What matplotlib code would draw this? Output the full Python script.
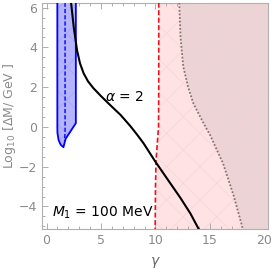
import matplotlib
matplotlib.use("Agg")
import matplotlib.pyplot as plt
from matplotlib.ticker import MultipleLocator

# --- data ---
# blue excluded band (polygon outline)
blue_x = [0.99, 0.99, 1.0, 1.1, 1.3, 1.55, 1.75, 2.69, 2.69]
blue_y = [6.25, 0.0, -0.3, -0.65, -0.9, -1.02, -0.6, 0.19, 6.25]
blue_dash_x = [1.7, 1.7, 1.65]
blue_dash_y = [6.25, -0.3, -0.7]

# black curve, alpha = 2
curve_x = [2.25, 2.5, 2.8, 3.07, 3.4, 3.8, 4.3, 5.0, 5.84, 6.8, 7.68, 8.3, 8.9,
           9.98, 11.0, 12.3, 13.2, 13.97, 14.05]
curve_y = [6.25, 5.0, 3.85, 3.2, 2.7, 2.3, 1.95, 1.55, 1.1, 0.6, 0.05, -0.38, -0.82,
           -1.74, -2.55, -3.58, -4.35, -5.14, -5.2]

# red dashed boundary
red_x = [10.3, 10.3, 10.28, 10.19, 10.05, 10.0, 9.97]
red_y = [6.25, 2.0, 0.0, -0.65, -1.7, -3.0, -5.2]

# gray dotted boundary
dot_x = [12.18, 12.3, 12.55, 13.0, 13.47, 14.3, 15.0, 16.2, 17.2, 18.05]
dot_y = [6.25, 4.5, 3.03, 2.0, 1.19, 0.3, -0.4, -1.83, -3.5, -5.2]

XMIN, XMAX = -0.4, 20.35
YMIN, YMAX = -5.13, 6.25
GRAY = "#8a8a8a"

plt.rcParams["hatch.linewidth"] = 0.4

fig = plt.figure(figsize=(2.74, 2.69), dpi=100)
ax = fig.add_axes([0.154, 0.149, 0.825, 0.841])

# pink region right of red line
ax.fill_betweenx(red_y, red_x, XMAX + 1, color="#ffe2e4", lw=0, zorder=1)
# darker region right of dotted line
ax.fill_betweenx(dot_y, dot_x, XMAX + 1, color="#ecd4d6", lw=0, zorder=2)
# faint cross hatching over both
ax.fill_betweenx(red_y, red_x, XMAX + 1, facecolor="none", edgecolor="#f5d2d5",
                 hatch="x", lw=0, zorder=2.5)

ax.plot(red_x, red_y, color="#e8141c", ls=(0, (3, 1.5)), lw=1.2, zorder=4)
ax.plot(dot_x, dot_y, color="#8a7272", ls=(0, (1, 1)), lw=1.3, zorder=4)

# blue band
ax.fill(blue_x, blue_y, facecolor="#b4b4ff", lw=0, zorder=3)
ax.fill(blue_x, blue_y, facecolor="none", edgecolor="#a0a0f4", hatch="x", lw=0, zorder=3)
ax.plot(blue_x, blue_y, color="#0000ff", lw=1.3, zorder=3)
ax.plot(blue_dash_x, blue_dash_y, color="#0000ff", ls=(0, (3, 1.5)), lw=1.0, zorder=4)

ax.plot(curve_x, curve_y, color="black", lw=1.5, zorder=5)

ax.text(7.15, 1.49, r"$\alpha$ = 2", fontsize=10, ha="center", va="center", zorder=6)
ax.text(0.5, -4.34, r"$M_1$ = 100 MeV", fontsize=10, ha="left", va="center", zorder=6)

ax.set_xlim(XMIN, XMAX)
ax.set_ylim(YMIN, YMAX)
ax.xaxis.set_major_locator(MultipleLocator(5))
ax.xaxis.set_minor_locator(MultipleLocator(1))
ax.yaxis.set_major_locator(MultipleLocator(2))
ax.yaxis.set_minor_locator(MultipleLocator(0.5))
ax.tick_params(which="both", direction="in", top=True, right=True, color="#a0a0a0",
               labelcolor=GRAY, labelsize=9, width=0.6)
ax.tick_params(which="major", length=4)
ax.tick_params(which="minor", length=2)
for s in ax.spines.values():
    s.set_color("#b0b0b0")
    s.set_linewidth(0.8)

ax.set_ylabel(r"Log$_{10}$ [$\Delta$M/ GeV ]", color=GRAY, fontsize=9)
ax.yaxis.set_label_coords(-0.105, 0.5)
ax.set_xlabel(r"$\gamma$", color="#666666", fontsize=10, labelpad=6)

fig.savefig("out.png", dpi=100)
